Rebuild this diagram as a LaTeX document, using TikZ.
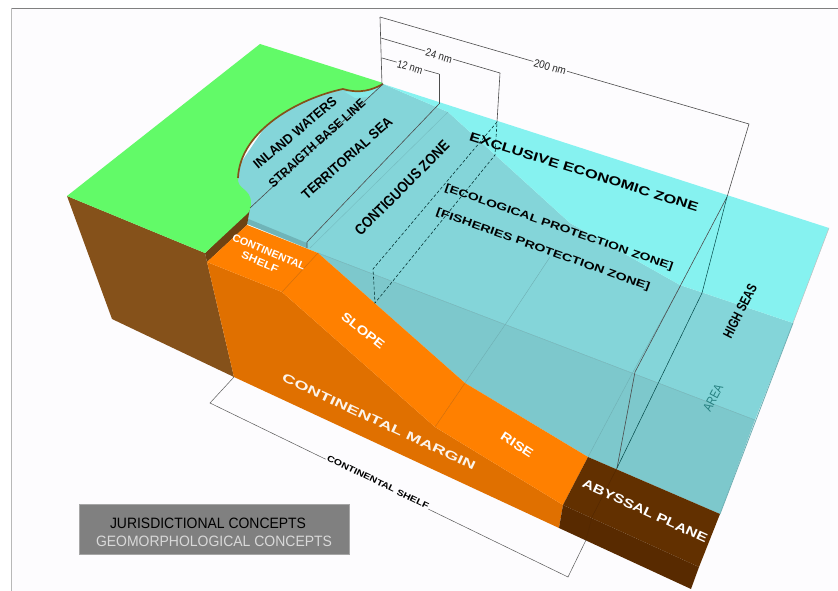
\documentclass[tikz,border=0pt]{standalone}
\usepackage{graphicx}
\usepackage{fontspec}
\setmainfont{Liberation Sans}
\definecolor{bgc}{HTML}{FDFCFE}
\definecolor{grass}{HTML}{62FA68}
\definecolor{earth}{HTML}{85511A}
\definecolor{earthdark}{HTML}{6E4212}
\definecolor{shelfor}{HTML}{FF8000}
\definecolor{sideor}{HTML}{E07000}
\definecolor{abyss}{HTML}{623000}
\definecolor{abyssdark}{HTML}{582A00}
\definecolor{brightsea}{HTML}{86F2F0}
\definecolor{surfsea}{HTML}{84D5D9}
\definecolor{frontsea}{HTML}{7DC8CC}
\definecolor{seam}{HTML}{6FAFB3}
\newcommand{\lab}[3]{\resizebox{#1pt}{\height}{\fontsize{#2}{#2}\selectfont #3}}
\tikzset{
  x=1pt,y=-1pt,
  every node/.style={inner sep=0pt,outer sep=0pt,font=\bfseries},
  blk/.style={text=black},
  wht/.style={text=white},
  dim/.style={draw=black!70,line width=.6pt},
  faint/.style={draw=seam,line width=.4pt},
  dashline/.style={draw=black!65!teal,line width=.55pt,dash pattern=on 3pt off 2pt},
  dimlab/.style={fill=bgc,inner xsep=1pt,inner ysep=1pt,font=\normalfont,text=black!85},
}
\begin{document}
\begin{tikzpicture}
\useasboundingbox (0,0) rectangle (838,591);
\fill[white] (0,0) rectangle (838,591);
\fill[bgc] (11,8) rectangle (838,591);
\draw[black!50,line width=.7pt] (11,8) -- (838,8);
\draw[black!28,line width=1pt] (11,8) -- (11,591);

% sea
\fill[surfsea] (383,84) -- (448,112) -- (570,223) -- (680,285) -- (793,323) -- (755,420) -- (318,253) -- (245,223) -- (236,170) -- (290,90) -- (343,80) -- cycle;
\fill[brightsea] (383,84) -- (829,228) -- (793,323) -- (680,285) -- (570,223) -- (448,112) -- cycle;
\fill[frontsea] (318,253) -- (465,383) -- (588,457) -- (720,514) -- (755,420) -- cycle;
\fill[brightsea!70!surfsea] (345,92) -- (355,98) -- (368,97) -- (378,88) -- cycle;
\fill[frontsea!90!black] (246,218) -- (307,243) -- (307,248) -- (245,223) -- cycle;
\draw[black!12!surfsea,line width=.4pt] (310,248) -- (448,112);
\draw[faint] (318,253) -- (755,420);
\draw[faint] (465,383) -- (507,322) -- (550,257);
\draw[faint] (588,457) -- (633,372) -- (681,285);
\draw[seam,line width=.8pt] (793,323) -- (720,514);
\draw[black!25,line width=.5pt] (829,228) -- (793,323);

% solid body
\fill[earth] (67,196) -- (205,253) -- (207,262) -- (234,377) -- (112,319) -- cycle;
\fill[earthdark] (205,253) -- (250,208) -- (247,225) -- (207,262) -- cycle;
\fill[sideor] (207,262) -- (282,292) -- (435,427) -- (563,505) -- (559,528) -- (234,377) -- cycle;
\fill[shelfor] (207,262) -- (247,225) -- (318,253) -- (282,292) -- cycle;
\fill[shelfor] (282,292) -- (318,253) -- (465,383) -- (435,427) -- cycle;
\fill[shelfor] (435,427) -- (465,383) -- (588,457) -- (563,505) -- cycle;
\draw[black!22!shelfor,line width=.35pt] (282,292) -- (318,253) (435,427) -- (465,383);
\fill[abyss] (588,457) -- (720,514) -- (699,567) -- (563,505) -- cycle;
\fill[abyssdark] (563,505) -- (699,567) -- (691,589) -- (559,528) -- cycle;

% land
\fill[grass] (67,196) -- (260,44) -- (383,83)
  .. controls (372,90) and (360,94) .. (343,89)
  .. controls (300,98) and (240,130) .. (238,178)
  .. controls (237,190) and (251,188) .. (251,203)
  .. controls (251,209) and (249,212) .. (248,213)
  -- (205,253) -- cycle;
\draw[earth,line width=1.7pt] (383,84)
  .. controls (372,90) and (360,94) .. (343,89)
  .. controls (300,98) and (240,130) .. (238,178);

% dimension lines
\coordinate (base0) at (382,85);
\coordinate (base1) at (250,208);
\coordinate (top200) at (380,17);
\coordinate (top24) at (381,38);
\coordinate (top12) at (382,58);
\coordinate (end12) at (439,74);
\coordinate (end24) at (500,73);
\coordinate (end200) at (749,124);
\coordinate (terr0) at (439,104);
\coordinate (terr1) at (307,242);
\coordinate (terr2) at (307,248);
\coordinate (cont0) at (497,122);
\coordinate (cont1) at (373,269);
\coordinate (cont2) at (375,303);
\coordinate (cont3) at (495,155);
\coordinate (hs0) at (727,197);
\coordinate (hs1) at (635,372);
\coordinate (hs2) at (702,293);
\coordinate (hs3) at (617,468);
\draw[dim] (base0) -- (base1);
\draw[dim] (top200) -- (base0);
\draw[dim] (terr0) -- (terr1) -- (terr2);
\draw[dim] (end12) -- (terr0);
\draw[dim] (end24) -- (cont0);
\draw[dashline] (cont0) -- (cont1) -- (cont2) -- (cont3) -- (cont0);
\draw[dim] (top200) -- (end200) -- (hs0) -- (hs1) -- (hs3);
\draw[black!45!teal,line width=.5pt] (hs0) -- (hs2) -- (hs3);
\draw[dim] (top24) -- (end24);
\draw[dim] (top12) -- (end12);
\node[dimlab,rotate=-16] (d200) at (550,67) {\lab{33}{11}{200 nm}};
\node[dimlab,rotate=-16] (d24) at (439,56) {\lab{27}{11}{24 nm}};
\node[dimlab,rotate=-16] (d12) at (410,67) {\lab{26}{11}{12 nm}};

% continental shelf bracket
\coordinate (cs0) at (234,377);
\coordinate (cs1) at (210,403);
\coordinate (cs2) at (568,577);
\coordinate (cs3) at (586,540);
\draw[black!65,line width=.5pt] (cs0) -- (cs1) -- (cs2) -- (cs3);
\draw[abyssdark!92!black,line width=.35pt] (cs3) -- (592,517) -- (hs3);
\node[fill=bgc,inner xsep=1pt,inner ysep=1pt,rotate=-25.9,text=black] (csl) at (378,482) {\lab{112}{8.5}{CONTINENTAL SHELF}};

% jurisdictional labels
\node[blk,rotate=40] (iw) at (295,133) {\lab{104}{13.5}{INLAND WATERS}};
\node[blk,rotate=42] (sbl) at (317,143) {\lab{125}{12.5}{STRAIGTH BASE LINE}};
\node[blk,rotate=41.5] (ts) at (347,158) {\lab{116}{14}{TERRITORIAL SEA}};
\node[blk,rotate=45] (cz) at (402,188) {\lab{127}{15}{CONTIGUOUS ZONE}};
\node[blk,rotate=-17.3] (eez) at (584,172) {\lab{239}{12.5}{EXCLUSIVE ECONOMIC ZONE}};
\node[blk,rotate=-19.3] (epz) at (559,228) {\lab{241}{10.5}{[ECOLOGICAL PROTECTION ZONE]}};
\node[blk,rotate=-19.6] (fpz) at (543,250) {\lab{226}{10.5}{[FISHERIES PROTECTION ZONE]}};
\node[blk,rotate=63] (hs) at (740,311) {\lab{58}{14}{HIGH SEAS}};
\node[text=teal!70!gray,rotate=62] (area) at (713,398) {\lab{28}{13}{\normalfont AREA}};

% geomorphological labels
\node[wht,rotate=-22.6] (cs) at (269,252) {\lab{78}{10.5}{CONTINENTAL}};
\node[wht,rotate=-22.6] (csb) at (260,262) {\lab{39}{10.5}{SHELF}};
\node[wht,rotate=-38] (sl) at (363,331) {\lab{51}{12.5}{SLOPE}};
\node[wht,rotate=-33] (ri) at (517,445) {\lab{36}{12.5}{RISE}};
\node[text=white!92!sideor,rotate=-25] (cm) at (379,422) {\lab{212}{12}{CONTINENTAL MARGIN}};
\node[wht,rotate=-24.6] (ap) at (645,511) {\lab{136}{12.5}{ABYSSAL PLANE}};

% legend
\node[fill=black!50,minimum width=270pt,minimum height=50pt,draw=black!35,line width=.3pt] (legend) at (214,529) {};
\node[anchor=west,font=\normalfont,text=black] (lg1) at (110,523) {\lab{196}{15}{JURISDICTIONAL CONCEPTS}};
\node[anchor=west,font=\normalfont,text=white!85!black] (lg2) at (96,541) {\lab{236}{15}{GEOMORPHOLOGICAL CONCEPTS}};
\end{tikzpicture}
\end{document}
